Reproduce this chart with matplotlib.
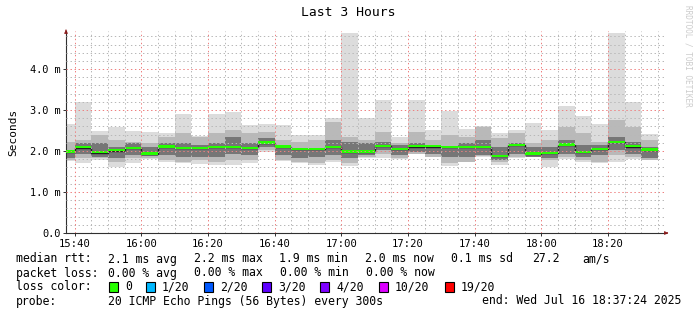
import numpy as np
import matplotlib
matplotlib.use("Agg")
import matplotlib.pyplot as plt

plt.rcParams['font.family'] = ['DejaVu Sans Mono']
plt.rcParams['lines.scale_dashes'] = False

# 5 minute steps, bar k spans [15:35 + 5k, 15:40 + 5k]  (minutes since midnight)
bar_start = 15 * 60 + 35
step_min = 5
# values in milliseconds
rtt_med = [1.98, 2.08, 1.96, 2.01, 2.07, 1.93, 2.10, 2.07, 2.07, 2.09, 2.09, 2.07,
           2.20, 2.10, 2.04, 2.04, 2.09, 1.98, 1.98, 2.12, 2.05, 2.11, 2.11, 2.09,
           2.09, 2.09, 1.87, 2.14, 1.93, 1.95, 2.15, 1.97, 2.05, 2.21, 2.11, 2.03]
rtt_max = [2.66, 3.20, 2.50, 2.59, 2.49, 2.46, 2.43, 2.90, 2.37, 2.90, 2.95, 2.63,
           2.66, 2.63, 2.39, 2.39, 2.81, 4.87, 2.81, 3.24, 2.35, 3.24, 2.51, 2.98,
           2.54, 2.61, 2.43, 2.51, 2.68, 2.51, 3.10, 2.85, 2.66, 4.89, 3.20, 2.41]
rtt_min = [1.76, 1.70, 1.78, 1.60, 1.72, 1.80, 1.74, 1.70, 1.68, 1.66, 1.66, 1.70,
           1.98, 1.76, 1.70, 1.66, 1.74, 1.64, 1.82, 1.83, 1.80, 1.92, 1.85, 1.64,
           1.76, 1.85, 1.66, 1.82, 1.85, 1.60, 1.80, 1.74, 1.70, 1.74, 1.80, 1.78]
rtt_hi = [2.23, 2.28, 2.39, 2.27, 2.23, 2.19, 2.35, 2.43, 2.35, 2.43, 2.51, 2.43,
          2.47, 2.27, 2.23, 2.27, 2.72, 2.35, 2.27, 2.47, 2.19, 2.47, 2.27, 2.39,
          2.35, 2.59, 2.31, 2.43, 2.19, 2.27, 2.59, 2.43, 2.23, 2.76, 2.59, 2.27]
rtt_lo = [1.78, 1.82, 1.82, 1.74, 1.82, 1.82, 1.78, 1.74, 1.78, 1.74, 1.78, 1.78,
          2.02, 1.78, 1.74, 1.70, 1.78, 1.70, 1.86, 1.94, 1.82, 1.94, 1.86, 1.70,
          1.74, 1.88, 1.74, 1.86, 1.88, 1.78, 1.86, 1.78, 1.74, 1.90, 1.86, 1.78]
core_hi = [2.02, 2.19, 2.19, 2.11, 2.19, 2.11, 2.19, 2.19, 2.15, 2.19, 2.35, 2.19,
           2.31, 2.15, 2.07, 2.07, 2.27, 2.23, 2.19, 2.23, 2.15, 2.19, 2.15, 2.11,
           2.19, 2.27, 2.11, 2.19, 2.11, 2.11, 2.27, 2.15, 2.15, 2.35, 2.23, 2.11]
core_lo = [1.82, 1.94, 1.86, 1.82, 1.90, 1.88, 1.90, 1.86, 1.86, 1.86, 1.94, 1.90,
           2.10, 1.90, 1.82, 1.86, 1.90, 1.82, 1.90, 2.02, 1.90, 1.98, 1.94, 1.86,
           1.86, 1.90, 1.78, 1.94, 1.86, 1.82, 1.94, 1.86, 1.90, 2.02, 1.94, 1.82]

xtick_pos = [940, 960, 980, 1000, 1020, 1040, 1060, 1080, 1100]
xtick_lab = ["15:40", "16:00", "16:20", "16:40", "17:00", "17:20", "17:40", "18:00", "18:20"]
ytick_pos = [0, 1, 2, 3, 4]
ytick_lab = ["0.0", "1.0 m", "2.0 m", "3.0 m", "4.0 m"]

loss_names = ["0", "1/20", "2/20", "3/20", "4/20", "10/20", "19/20"]
loss_colors = ["#26ff00", "#00b8ff", "#0059ff", "#5e00ff", "#7e00ff", "#dd00ff", "#ff0000"]

t0 = 15 * 60 + 37.4
t1 = t0 + 180
ymax = 4.93

fig = plt.figure(figsize=(6.97, 3.15), dpi=100)
ax = fig.add_axes([66 / 697, 82 / 315, 600 / 697, 202 / 315])

n = len(rtt_med)
left = bar_start + step_min * np.arange(n)
mn, mx = np.array(rtt_min), np.array(rtt_max)
lo, hi = np.array(rtt_lo), np.array(rtt_hi)
clo, chi = np.array(core_lo), np.array(core_hi)
med = np.array(rtt_med)

# smoke
ax.bar(left, mx - mn, bottom=mn, width=step_min, align='edge', color='#dcdcdc', lw=0, zorder=1)
ax.bar(left, hi - lo, bottom=lo, width=step_min, align='edge', color='#b9b9b9', lw=0, zorder=1)
ax.bar(left, chi - clo, bottom=clo, width=step_min, align='edge', color='#767676', lw=0, zorder=1)

# median line and loss colour band
edges = np.append(left, left[-1] + step_min)
ax.stairs(med, edges, baseline=None, color='#202020', lw=1.0, zorder=3)
sw = ymax / 202
ax.bar(left, 2.2 * sw, bottom=med - 0.7 * sw, width=step_min, align='edge',
       color=loss_colors[0], lw=0, zorder=4)

ax.set_xlim(t0, t1)
ax.set_ylim(0, ymax)

# grid
px = 0.72
grid_kw = dict(lw=px, ls=(0, (1.0, 1.9)), zorder=5)
for v in np.arange(0.2, ymax, 0.2):
    major = abs(v - round(v)) < 1e-6
    ax.axhline(v, color='#ee8080' if major else '#b8b8b8', **grid_kw)
for t in np.arange(940, t1, 5):
    major = (t - 940) % 20 == 0
    ax.axvline(t, color='#ee8080' if major else '#b8b8b8', **grid_kw)

for s in ['top', 'right']:
    ax.spines[s].set_visible(False)
for s in ['left', 'bottom']:
    ax.spines[s].set_color('#303030')
    ax.spines[s].set_linewidth(0.8)

ax.set_xticks(xtick_pos)
ax.set_xticklabels(xtick_lab, fontsize=7.6)
ax.set_yticks(ytick_pos)
ax.set_yticklabels(ytick_lab, fontsize=7.4)
ax.tick_params(length=2, width=0.7, color='#303030', pad=2)
ax.set_ylabel("Seconds", fontsize=8.0, labelpad=8)

# arrows
ax.annotate('', xy=(t0, ymax + 0.1), xytext=(t0, ymax - 0.05),
            arrowprops=dict(arrowstyle='-|>', color='#8b1a1a', lw=0.6, mutation_scale=5),
            annotation_clip=False)
ax.annotate('', xy=(t1 + 1.5, 0), xytext=(t1 - 0.5, 0),
            arrowprops=dict(arrowstyle='-|>', color='#8b1a1a', lw=0.6, mutation_scale=5),
            annotation_clip=False)

fig.text(0.5, 1 - 12 / 315, "Last 3 Hours", ha='center', va='center', fontsize=9.4)
fig.text(688 / 697, 1 - 5 / 315, "RRDTOOL / TOBI OETIKER", rotation=270, ha='center',
         va='top', fontsize=5.6, color='#cccccc')

# legend text
fs = 8.3
def put(x, y, s, **kw):
    fig.text(x / 697, 1 - y / 315, s, fontsize=fs, va='center', ha=kw.pop('ha', 'left'), **kw)

y1, y2, y3, y4 = 259, 273, 287, 301
put(16, y1, "median rtt:")
for x, s in zip([108, 194, 279, 365, 451, 532, 582],
                ["2.1 ms avg", "2.2 ms max", "1.9 ms min", "2.0 ms now", "0.1 ms sd", "27.2", "am/s"]):
    put(x, y1, s)
put(16, y2, "packet loss:")
for x, s in zip([108, 194, 280, 366], ["0.00 % avg", "0.00 % max", "0.00 % min", "0.00 % now"]):
    put(x, y2, s)
put(16, y3, "loss color:")
box_x = [109, 146, 204, 262, 320, 379, 445]
for bx, c, s in zip(box_x, loss_colors, loss_names):
    fig.patches.append(plt.Rectangle((bx / 697, 1 - (y3 + 5) / 315), 9 / 697, 10 / 315,
                                     transform=fig.transFigure, facecolor=c,
                                     edgecolor='black', lw=0.8))
    put(bx + 16, y3, s)
put(16, y4, "probe:")
put(108, y4, "20 ICMP Echo Pings (56 Bytes) every 300s")
put(681, y4, "end: Wed Jul 16 18:37:24 2025", ha='right')

fig.savefig("out.png", dpi=100, facecolor='white')
